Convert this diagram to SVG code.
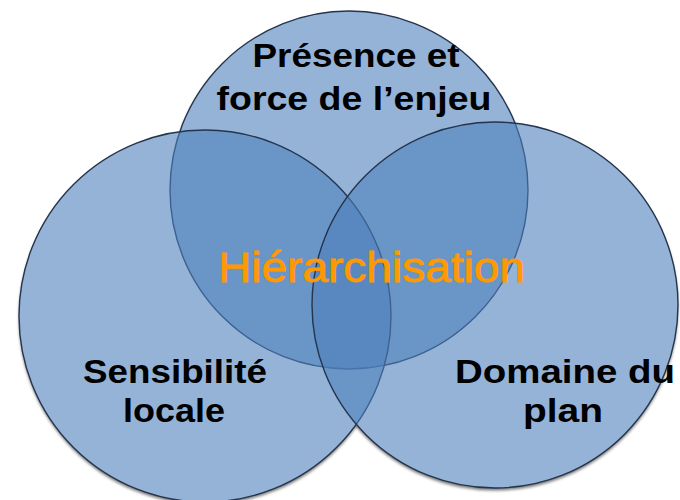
<svg xmlns="http://www.w3.org/2000/svg" width="680" height="500" viewBox="0 0 680 500">
  <defs>
    <style>
      .disc { fill: #4F81BD; fill-opacity: 0.6; stroke: #24344C; stroke-width: 1.4; }
      .shadow { fill: #4a4a4a; }
      .back { fill: #ffffff; }
      .lbl { font-family: "Liberation Sans", Arial, sans-serif; font-weight: bold; font-size: 33px; fill: #000000; text-anchor: middle; }
      .center { font-family: "Liberation Sans", Arial, sans-serif; font-size: 42px; fill: #FF9900; stroke: #FF9900; stroke-width: 0.8; text-anchor: middle; }
    </style>
    <filter id="blur" x="-10%" y="-10%" width="120%" height="120%">
      <feGaussianBlur stdDeviation="1.6"/>
    </filter>
  </defs>
  <rect width="680" height="500" fill="#ffffff"/>
  <g id="shadows" filter="url(#blur)" opacity="0.75" transform="translate(0,2.5)">
    <circle class="shadow" cx="349" cy="190" r="179"/>
    <circle class="shadow" cx="205" cy="316" r="186"/>
    <circle class="shadow" cx="495" cy="305" r="183"/>
  </g>
  <g id="backing">
    <circle class="back" cx="349" cy="190" r="179"/>
    <circle class="back" cx="205" cy="316" r="186"/>
    <circle class="back" cx="495" cy="305" r="183"/>
  </g>
  <g id="node-presence">
    <circle class="disc" cx="349" cy="190" r="179"/>
    <text class="lbl" x="356" y="67" textLength="207" lengthAdjust="spacingAndGlyphs">Présence et</text>
    <text class="lbl" x="354" y="110" textLength="275" lengthAdjust="spacingAndGlyphs">force de l’enjeu</text>
  </g>
  <g id="node-sensibilite">
    <circle class="disc" cx="205" cy="316" r="186"/>
    <text class="lbl" x="175" y="383" textLength="184" lengthAdjust="spacingAndGlyphs">Sensibilité</text>
    <text class="lbl" x="174" y="422" textLength="102" lengthAdjust="spacingAndGlyphs">locale</text>
  </g>
  <g id="node-domaine">
    <circle class="disc" cx="495" cy="305" r="183"/>
    <text class="lbl" x="565" y="383" textLength="220" lengthAdjust="spacingAndGlyphs">Domaine du</text>
    <text class="lbl" x="563" y="422" textLength="80" lengthAdjust="spacingAndGlyphs">plan</text>
  </g>
  <g id="connectors"></g>
  <g id="center-label">
    <text class="center" x="371.5" y="282" textLength="307" lengthAdjust="spacingAndGlyphs">Hiérarchisation</text>
  </g>
</svg>
